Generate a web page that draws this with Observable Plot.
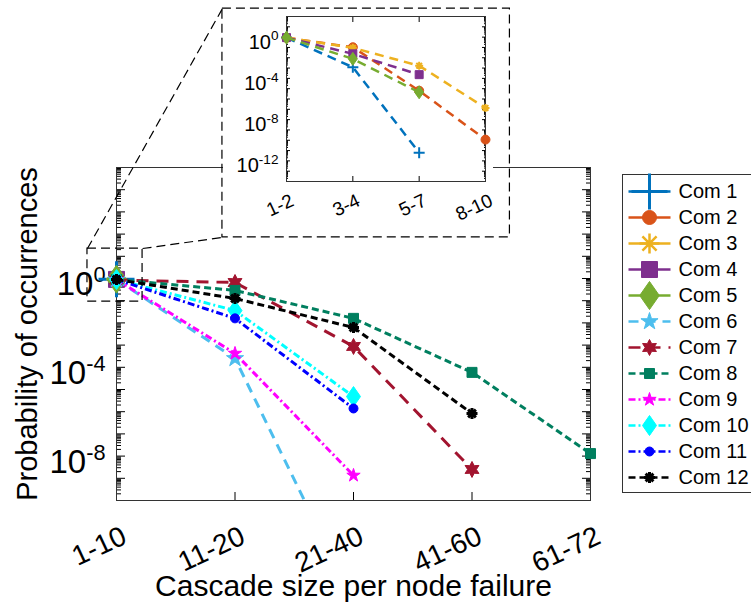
<!DOCTYPE html>
<html><head><meta charset="utf-8">
<script src="https://cdn.jsdelivr.net/npm/d3@7"></script>
<script src="https://cdn.jsdelivr.net/npm/@observablehq/plot@0.6"></script>
<style>
html,body{margin:0;padding:0;background:#fff;overflow:hidden;}
#wrap{position:relative;width:751px;height:611px;overflow:hidden;}
#wrap svg{position:absolute;overflow:visible;}
</style></head><body><div id="wrap"></div>
<script>
// ---------- data ----------
const mainCategories = ["1-10", "11-20", "21-40", "41-60", "61-72"];
const insetCategories = ["1-2", "3-4", "5-7", "8-10"];
const seriesNames = ["Com 1","Com 2","Com 3","Com 4","Com 5","Com 6","Com 7","Com 8","Com 9","Com 10","Com 11","Com 12"];
const mainYTickValues = [1e-8, 1e-4, 1];
const insetYTickValues = [1e-12, 1e-8, 1e-4, 1];

// main plot: probability per cascade-size bin
const mainCom1 = [0.93];
const mainCom2 = [0.9];
const mainCom3 = [0.92];
const mainCom4 = [0.91];
const mainCom5 = [0.93];
const mainCom6 = [0.9, 2.5e-4, 3e-15];
const mainCom7 = [0.85, 0.66, 8.7e-4, 2.5e-9];
const mainCom8 = [0.9, 0.29, 1.6e-2, 5.9e-5, 1.3e-8];
const mainCom9 = [0.9, 4.2e-4, 1.35e-9];
const mainCom10 = [0.9, 3.6e-2, 4.8e-6];
const mainCom11 = [0.9, 1.6e-2, 1.4e-6];
const mainCom12 = [0.9, 0.126, 6.2e-3, 8.3e-7];

// inset: breakdown of the 1-10 bin
const insetCom1 = [0.9, 1.2e-3, 6.3e-12];
const insetCom2 = [0.85, 0.105, 6.3e-6, 1.15e-10];
const insetCom3 = [0.9, 9.1e-2, 1.7e-3, 1.35e-7];
const insetCom4 = [0.9, 2.4e-2, 2.3e-4];
const insetCom5 = [0.9, 7.8e-3, 4.5e-6];

const mainValues = [mainCom1,mainCom2,mainCom3,mainCom4,mainCom5,mainCom6,mainCom7,mainCom8,mainCom9,mainCom10,mainCom11,mainCom12];
const insetValues = [insetCom1,insetCom2,insetCom3,insetCom4,insetCom5];

// zoom annotation (in main data coordinates: x = bin index, y = probability)
const zoomBox = {x1: -0.245, x2: 0.22, y1: 10 ** -1.04, y2: 10 ** 1.35};
const insetBox = {x1: 0.894, x2: 3.32, y1: 10 ** 1.85, y2: 10 ** 12.16};

// ---------- styles ----------
const FONT = 'Helvetica, "Liberation Sans", Arial, sans-serif';
function sym(fn){ return {draw(c, size){ const R = Math.sqrt(size / Math.PI); fn(c, R); }}; }
function star(n, ratio){ return sym((c, R) => { for (let i = 0; i < 2*n; i++){ const r = i % 2 ? R*ratio : R; const a = -Math.PI/2 + i*Math.PI/n; const x = r*Math.cos(a), y = r*Math.sin(a); if (i) c.lineTo(x, y); else c.moveTo(x, y);} c.closePath(); }); }
const SYM = {
  plus: sym((c,R)=>{c.moveTo(-R,0);c.lineTo(R,0);c.moveTo(0,-R);c.lineTo(0,R);}),
  circle: sym((c,R)=>{c.moveTo(R,0);c.arc(0,0,R,0,2*Math.PI);c.closePath();}),
  asterisk: sym((c,R)=>{for(let k=0;k<4;k++){const a=k*Math.PI/4;c.moveTo(-R*Math.cos(a),-R*Math.sin(a));c.lineTo(R*Math.cos(a),R*Math.sin(a));}}),
  square: sym((c,R)=>{c.rect(-R,-R,2*R,2*R);}),
  diamond: sym((c,R)=>{c.moveTo(0,-R);c.lineTo(0.7*R,0);c.lineTo(0,R);c.lineTo(-0.7*R,0);c.closePath();}),
  pentagram: star(5, 0.382),
  hexagram: star(6, 0.55)
};
const seriesStyle = [
  {color:"#0072BD", sym:"plus",      r:18,  filled:false, msw:3,   dash:"9 6",     ir:5.5},
  {color:"#D95319", sym:"circle",    r:7,   filled:true,  msw:1,   dash:"9 6",     ir:4.5},
  {color:"#EDB120", sym:"asterisk",  r:10,  filled:false, msw:2.5, dash:"9 6",     ir:4},
  {color:"#7E2F8E", sym:"square",    r:8,   filled:true,  msw:1,   dash:"9 6",     ir:4},
  {color:"#77AC30", sym:"diamond",   r:14,  filled:true,  msw:1,   dash:"9 6",     ir:6.5},
  {color:"#4DBEEE", sym:"pentagram", r:9,   filled:true,  msw:1,   dash:"10 7"},
  {color:"#A2142F", sym:"hexagram",  r:8,   filled:true,  msw:1,   dash:"12 8"},
  {color:"#007F5F", sym:"square",    r:5,   filled:true,  msw:1,   dash:"7 4"},
  {color:"#FF00FF", sym:"pentagram", r:7,   filled:true,  msw:1,   dash:"7 3 2 3"},
  {color:"#00FFFF", sym:"diamond",   r:10,  filled:true,  msw:1,   dash:"7 3 2 3"},
  {color:"#0000FF", sym:"circle",    r:4.5, filled:true,  msw:1,   dash:"7 3 2 3"},
  {color:"#000000", sym:"asterisk",  r:5.5, filled:false, msw:3,   dash:"7 4"}
];

function dotOpts(st, r){
  return {symbol: SYM[st.sym], r, fill: st.filled ? st.color : "none", stroke: st.color, strokeWidth: st.msw};
}
const expFmt = d => "10^" + Math.round(Math.log10(d));
function supFormat(svg, rel){
  d3.select(svg).selectAll("text").each(function(){
    const m = /^10\^(-?\d+)$/.exec(this.textContent);
    if (m){ const s = d3.select(this); s.text("10"); s.append("tspan").attr("dy","-0.6em").attr("font-size", rel + "em").text(m[1]); }
  });
}
function logTicks(lo, hi){
  const major = [], minor = [];
  for (let k = lo; k < hi; k++){ major.push(10 ** k); for (let m = 2; m <= 9; m++) minor.push(m * 10 ** k); }
  major.push(10 ** hi);
  return {major, minor};
}
const blank = () => "";

// ---------- main plot ----------
const mt = logTicks(-10, 5);
const mainMarks = [
  Plot.axisY({ticks: mt.minor, tickSize: 5, insetLeft: 5, tickFormat: blank, label: null}),
  Plot.axisY({ticks: mt.major, tickSize: 9, insetLeft: 9, tickFormat: blank, label: null}),
  Plot.axisY({anchor: "right", ticks: mt.minor, tickSize: 5, insetRight: 5, tickFormat: blank, label: null}),
  Plot.axisY({anchor: "right", ticks: mt.major, tickSize: 9, insetRight: 9, tickFormat: blank, label: null}),
  Plot.axisY({ticks: mainYTickValues, tickSize: 0, tickPadding: 11, tickFormat: expFmt, fontSize: 33, dy: 6, label: null}),
  Plot.axisX({ticks: d3.range(mainCategories.length), tickSize: 8, insetBottom: 8, tickFormat: blank, label: null}),
  Plot.axisX({anchor: "top", ticks: d3.range(mainCategories.length), tickSize: 8, insetTop: 8, tickFormat: blank, label: null}),
  Plot.axisX({ticks: d3.range(mainCategories.length), tickSize: 0, tickPadding: 34, tickRotate: -25, dx: 8, tickFormat: i => mainCategories[i], fontSize: 28, label: null}),
  Plot.frame({stroke: "#333", strokeWidth: 1}),
  Plot.text(["Probability of occurrences"], {frameAnchor: "left", dx: -89, rotate: -90, textAnchor: "middle", fontSize: 29}),
  Plot.text(["Cascade size per node failure"], {frameAnchor: "bottom", dy: 95, fontSize: 30})
];
mainValues.forEach((vals, s) => {
  const st = seriesStyle[s];
  const data = vals.map((v, i) => ({i, v}));
  if (data.length > 1) mainMarks.push(Plot.line(data, {x: "i", y: "v", stroke: st.color, strokeWidth: 3, strokeDasharray: st.dash, strokeLinecap: "butt", clip: true}));
  mainMarks.push(Plot.dot(data.filter(d => d.v >= 1e-10), {x: "i", y: "v", ...dotOpts(st, st.r)}));
});
mainMarks.push(
  Plot.rect([zoomBox], {x1: "x1", x2: "x2", y1: "y1", y2: "y2", fill: "none", stroke: "#000", strokeWidth: 1.2, strokeDasharray: "9 5"}),
  Plot.rect([insetBox], {x1: "x1", x2: "x2", y1: "y1", y2: "y2", fill: "none", stroke: "#000", strokeWidth: 1.2, strokeDasharray: "9 5"}),
  Plot.link([
    {x1: zoomBox.x1, y1: zoomBox.y2, x2: insetBox.x1, y2: insetBox.y2},
    {x1: zoomBox.x2, y1: zoomBox.y2, x2: insetBox.x1, y2: insetBox.y1}
  ], {x1: "x1", y1: "y1", x2: "x2", y2: "y2", stroke: "#000", strokeWidth: 1.2, strokeDasharray: "9 5"})
);
const mainSvg = Plot.plot({
  width: 751, height: 611,
  marginLeft: 116, marginRight: 161, marginTop: 167, marginBottom: 111,
  x: {type: "linear", domain: [0, mainCategories.length - 1]},
  y: {type: "log", domain: [1e-10, 1e5]},
  style: {fontFamily: FONT, background: "white", color: "#000"},
  marks: mainMarks
});
supFormat(mainSvg, 0.66);
mainSvg.style.left = "0px"; mainSvg.style.top = "0px";

// ---------- inset ----------
const it = logTicks(-14, 2);
const insetMarks = [
  Plot.axisY({ticks: it.minor, tickSize: 2, insetLeft: 2, tickFormat: blank, label: null}),
  Plot.axisY({ticks: it.major, tickSize: 4, insetLeft: 4, tickFormat: blank, label: null}),
  Plot.axisY({anchor: "right", ticks: it.minor, tickSize: 2, insetRight: 2, tickFormat: blank, label: null}),
  Plot.axisY({anchor: "right", ticks: it.major, tickSize: 4, insetRight: 4, tickFormat: blank, label: null}),
  Plot.axisY({ticks: insetYTickValues, tickSize: 0, tickPadding: 8, tickFormat: expFmt, fontSize: 20, dy: 5, label: null}),
  Plot.axisX({ticks: d3.range(insetCategories.length), tickSize: 5, insetBottom: 5, tickFormat: blank, label: null}),
  Plot.axisX({anchor: "top", ticks: d3.range(insetCategories.length), tickSize: 5, insetTop: 5, tickFormat: blank, label: null}),
  Plot.axisX({ticks: d3.range(insetCategories.length), tickSize: 0, tickPadding: 18, tickRotate: -25, dx: 6, tickFormat: i => insetCategories[i], fontSize: 19, label: null}),
  Plot.frame({stroke: "#333", strokeWidth: 1})
];
insetValues.forEach((vals, s) => {
  const st = seriesStyle[s];
  const data = vals.map((v, i) => ({i, v}));
  insetMarks.push(Plot.line(data, {x: "i", y: "v", stroke: st.color, strokeWidth: 2.5, strokeDasharray: st.dash, strokeLinecap: "butt"}));
  insetMarks.push(Plot.dot(data, {x: "i", y: "v", ...dotOpts(st, st.ir), strokeWidth: st.filled ? 1 : 2}));
});
const insetSvg = Plot.plot({
  width: 270, height: 225,
  marginLeft: 63, marginRight: 8, marginTop: 6, marginBottom: 54,
  x: {type: "linear", domain: [0, insetCategories.length - 1]},
  y: {type: "log", domain: [1e-14, 1e2]},
  style: {fontFamily: FONT, background: "white", color: "#000"},
  marks: insetMarks
});
supFormat(insetSvg, 0.68);
insetSvg.style.left = "223px"; insetSvg.style.top = "10px";

// ---------- legend ----------
const legendMarks = [Plot.frame({stroke: "#333", strokeWidth: 1})];
seriesNames.forEach((name, s) => {
  const st = seriesStyle[s];
  legendMarks.push(Plot.link([s], {x1: 0, x2: 1, y1: d => d, y2: d => d, stroke: st.color, strokeWidth: 2.5, strokeDasharray: s < 5 ? null : st.dash, strokeLinecap: "butt"}));
  legendMarks.push(Plot.dot([s], {x: 0.5, y: d => d, ...dotOpts(st, st.r)}));
});
legendMarks.push(Plot.text(seriesNames, {x: 1, y: (d, i) => i, dx: 8, textAnchor: "start", fontSize: 20}));
const legendSvg = Plot.plot({
  width: 140, height: 318,
  marginLeft: 0, marginRight: 0, marginTop: 0, marginBottom: 0,
  x: {domain: [0, 1], range: [6, 48], axis: null},
  y: {domain: [0, seriesNames.length - 1], range: [17, 303], axis: null},
  style: {fontFamily: FONT, background: "white", color: "#000"},
  marks: legendMarks
});
legendSvg.style.left = "622px"; legendSvg.style.top = "174px";

const wrap = document.getElementById("wrap");
wrap.append(mainSvg, insetSvg, legendSvg);
</script></body></html>
